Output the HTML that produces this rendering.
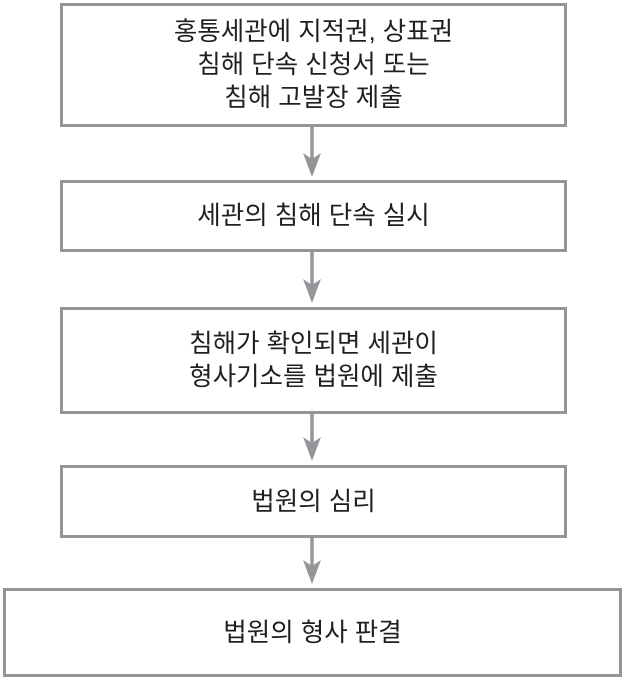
<!DOCTYPE html>
<html>
<head>
<meta charset="utf-8">
<style>
  html, body { margin:0; padding:0; background:#fff; }
  body { width:627px; height:681px; position:relative; overflow:hidden; }
  svg { position:absolute; left:0; top:0; }
  .t { position:absolute; display:flex; align-items:center; justify-content:center; text-align:center;
       font-family: "Liberation Sans", "Noto Sans CJK KR", "NanumGothic", sans-serif;
       font-size:25.5px; line-height:33px; color:#231f20; }
</style>
</head>
<body>
<svg width="627" height="681" viewBox="0 0 627 681">
  <g fill="none" stroke="#939598" stroke-width="3">
    <rect x="61.5" y="4.5" width="504" height="121"/>
    <rect x="61.5" y="181.5" width="504" height="69"/>
    <rect x="61.5" y="308.5" width="504" height="104"/>
    <rect x="61.5" y="466.5" width="504" height="70"/>
    <rect x="4.5" y="589.5" width="616" height="86"/>
  </g>
  <g stroke="#939598" stroke-width="3.5">
    <line x1="312" y1="127" x2="312" y2="160"/>
    <line x1="312" y1="252" x2="312" y2="285"/>
    <line x1="312" y1="414" x2="312" y2="443"/>
    <line x1="312" y1="538" x2="312" y2="566"/>
  </g>
  <g fill="#939598">
    <polygon points="303,153 312,159 321,153 312,177"/>
    <polygon points="303,279 312,285 321,279 312,303"/>
    <polygon points="303,437 312,443 321,437 312,461"/>
    <polygon points="303,560 312,566 321,560 312,584"/>
  </g>
</svg>
<div class="t" style="left:63px;top:6px;width:501px;height:118px;">홍통세관에 지적권, 상표권<br>침해 단속 신청서 또는<br>침해 고발장 제출</div>
<div class="t" style="left:63px;top:183px;width:501px;height:67px;">세관의 침해 단속 실시</div>
<div class="t" style="left:63px;top:310px;width:501px;height:102px;">침해가 확인되면 세관이<br>형사기소를 법원에 제출</div>
<div class="t" style="left:63px;top:468px;width:501px;height:68px;">법원의 심리</div>
<div class="t" style="left:6px;top:591px;width:613px;height:84px;">법원의 형사 판결</div>
</body>
</html>
